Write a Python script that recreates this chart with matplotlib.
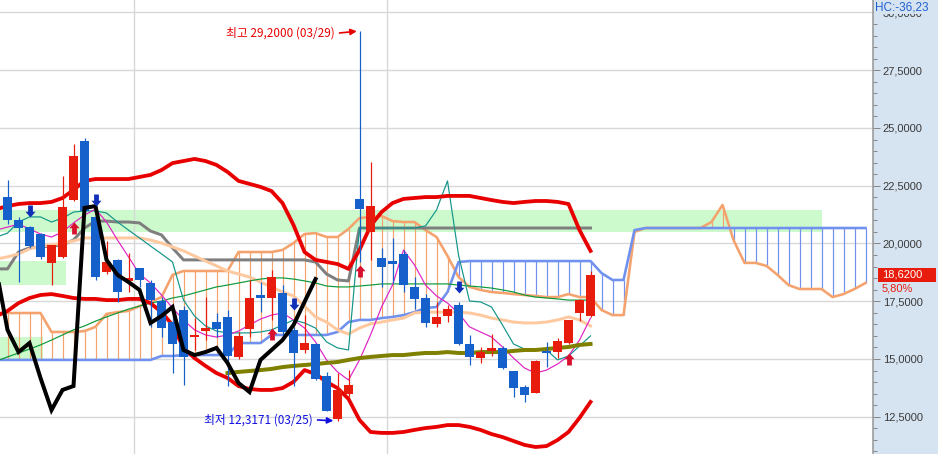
import matplotlib
matplotlib.use('Agg')
import matplotlib.pyplot as plt
import numpy as np
from matplotlib.path import Path
from matplotlib.patches import Rectangle
from matplotlib.transforms import blended_transform_factory
from matplotlib.ticker import MultipleLocator, FixedLocator, FuncFormatter

plt.rcParams['font.family'] = ['DejaVu Sans']
KR = ['Noto Sans CJK KR', 'DejaVu Sans']
NUMFONT = ['Liberation Sans', 'DejaVu Sans']

# ---------------- data ----------------
opens = [22.01, 21.02, 20.72, 20.41, 19.16, 19.42, 21.88, 24.44, 21.15, 18.77,
         19.29, 18.38, 18.94, 18.29, 17.51, 16.60, 17.12, 15.95, 16.21, 16.60,
         16.82, 15.09, 16.30, 17.77, 17.64, 17.86, 16.26, 15.39, 15.65, 14.26,
         12.40, 13.48, 21.93, 20.50, 19.37, 19.24, 19.55, 18.12, 17.64, 16.52,
         16.86, 17.34, 15.65, 15.04, 15.35, 15.48, 14.48, 13.79, 13.53, 15.35,
         15.30, 15.69, 16.99, 16.86]
highs = [22.75, 21.15, 20.75, 20.45, 19.94, 22.92, 24.31, 24.57, 21.23, 20.11,
         19.33, 19.59, 18.94, 18.42, 17.68, 16.90, 17.29, 16.77, 17.68, 16.99,
         17.12, 16.17, 18.42, 18.33, 18.85, 18.20, 16.40, 16.90, 15.69, 14.44,
         14.39, 14.52, 29.20, 23.53, 19.81, 20.24, 19.72, 18.55, 17.81, 17.47,
         17.34, 17.47, 16.04, 15.52, 16.08, 15.56, 14.48, 13.87, 14.96, 15.74,
         15.91, 16.69, 17.60, 18.81]
lows = [20.84, 18.33, 19.81, 19.33, 18.20, 19.37, 21.84, 21.36, 18.42, 18.68,
        17.47, 17.90, 18.12, 16.39, 15.95, 14.39, 13.87, 15.39, 15.82, 15.95,
        13.83, 15.00, 15.95, 17.03, 16.69, 16.04, 13.83, 15.26, 14.09, 12.75,
        12.3171, 13.35, 19.20, 19.29, 18.12, 18.29, 17.90, 17.16, 16.39, 16.39,
        16.60, 15.61, 14.74, 14.83, 15.13, 14.57, 13.35, 13.14, 13.53, 14.65,
        15.04, 15.65, 16.65, 16.82]
closes = [21.02, 20.67, 19.89, 19.42, 19.94, 21.58, 23.79, 21.41, 18.55, 19.20,
          17.90, 18.51, 18.42, 17.55, 16.34, 15.65, 15.09, 16.00, 16.34, 16.30,
          15.13, 16.00, 17.64, 17.64, 18.55, 16.17, 15.26, 15.69, 14.13, 12.75,
          13.66, 13.87, 21.49, 21.62, 18.98, 19.11, 18.20, 17.60, 16.56, 16.82,
          17.16, 15.65, 15.09, 15.30, 15.48, 14.61, 13.74, 13.44, 14.91, 15.26,
          15.78, 16.69, 17.55, 18.62]

# indicator lines, index -1 .. 53
bb_upper = [21.49, 21.62, 21.71, 21.75, 21.75, 21.80, 21.97, 22.32, 22.71, 22.79,
            22.79, 22.79, 22.79, 22.88, 22.97, 23.18, 23.48, 23.57, 23.66, 23.57,
            23.40, 23.10, 22.71, 22.58, 22.45, 22.27, 21.75, 20.80, 19.63, 19.29,
            19.20, 19.11, 18.90, 19.72, 20.76, 21.36, 21.75, 21.93, 21.97, 22.01,
            22.01, 22.06, 22.06, 22.06, 21.97, 21.88, 21.80, 21.75, 21.80, 21.84,
            21.84, 21.80, 21.71, 20.58, 19.68]
bb_lower = [16.86, 17.08, 17.42, 17.64, 17.77, 17.81, 17.73, 17.64, 17.60, 17.60,
            17.55, 17.55, 17.60, 17.60, 17.42, 17.03, 16.47, 15.48, 15.04, 14.70,
            14.39, 14.18, 13.83, 13.70, 13.66, 13.66, 13.74, 14.01, 14.52, 14.35,
            14.01, 13.74, 13.27, 12.36, 11.84, 11.80, 11.80, 11.84, 11.93, 12.01,
            12.06, 12.14, 12.14, 12.06, 11.93, 11.75, 11.62, 11.45, 11.28, 11.19,
            11.23, 11.49, 11.84, 12.45, 13.14]
gray_line = [18.90, 18.90, 19.63, 19.81, 19.85, 19.89, 19.94, 20.15, 20.67, 20.97,
             20.97, 20.93, 20.93, 20.89, 20.54, 20.37, 19.81, 19.29, 19.29, 19.29,
             19.29, 19.29, 19.29, 19.29, 19.29, 19.29, 19.29, 19.29, 19.29, 19.20,
             18.68, 18.42, 18.38, 20.67, 20.67, 20.67, 20.67, 20.67, 20.67, 20.67,
             20.67, 20.67, 20.67, 20.67, 20.67, 20.67, 20.67, 20.67, 20.67, 20.67,
             20.67, 20.67, 20.67, 20.67, 20.67]
peach_line = [19.33, 19.42, 19.55, 19.76, 19.89, 19.94, 20.02, 20.11, 20.24, 20.24,
              20.24, 20.24, 20.24, 20.24, 20.15, 20.02, 19.85, 19.68, 19.46, 19.24,
              19.03, 18.81, 18.68, 18.55, 18.33, 18.12, 17.90, 17.73, 17.29, 16.82,
              16.60, 16.26, 16.08, 16.34, 16.52, 16.60, 16.69, 16.77, 16.99, 17.03,
              17.03, 17.03, 17.03, 16.99, 16.90, 16.77, 16.69, 16.60, 16.56, 16.56,
              16.60, 16.69, 16.82, 16.69, 16.43]
green_line = [14.91, 15.09, 15.26, 15.43, 15.61, 15.82, 16.04, 16.26, 16.43, 16.64,
              16.82, 16.99, 17.16, 17.29, 17.42, 17.51, 17.64, 17.73, 17.86, 17.99,
              18.12, 18.20, 18.29, 18.38, 18.46, 18.51, 18.51, 18.46, 18.38, 18.29,
              18.16, 18.12, 18.12, 18.16, 18.20, 18.25, 18.25, 18.25, 18.25, 18.25,
              18.25, 18.25, 18.20, 18.16, 18.12, 18.07, 17.99, 17.90, 17.77, 17.68,
              17.64, 17.60, 17.55, 17.55, 17.55]
teal_line = [20.28, 20.45, 20.93, 21.15, 21.15, 20.93, 21.10, 21.36, 21.41, 21.41,
             21.32, 20.93, 20.58, 20.24, 19.89, 19.55, 19.20, 17.55, 16.86, 16.43,
             16.21, 16.13, 16.13, 16.13, 16.17, 16.26, 16.47, 16.69, 16.56, 16.34,
             15.74, 15.48, 15.39, 20.67, 20.67, 20.67, 20.67, 20.67, 20.67, 20.76,
             21.45, 22.71, 19.50, 17.51, 17.47, 17.25, 16.47, 15.65, 15.43, 15.39,
             15.39, 14.96, 15.13, 15.56, 16.00]
magenta_line = [20.58, 20.71, 20.84, 20.63, 20.41, 20.28, 20.50, 20.89, 21.23, 21.49,
                20.93, 20.15, 19.42, 18.68, 18.29, 17.77, 17.21, 16.69, 16.26, 16.04,
                15.95, 16.04, 16.21, 16.47, 16.73, 16.90, 16.99, 16.69, 16.34, 15.74,
                14.96, 14.44, 14.09, 14.96, 16.04, 17.25, 18.20, 19.72, 19.07, 18.20,
                17.73, 17.42, 16.99, 16.39, 16.17, 15.95, 15.52, 15.04, 14.61, 14.39,
                14.52, 14.78, 15.13, 15.82, 16.77]
# index 20 .. 53
olive_line = [14.39, 14.44, 14.48, 14.52, 14.57, 14.65, 14.70, 14.74, 14.78, 14.83,
              14.87, 14.96, 15.04, 15.09, 15.13, 15.17, 15.17, 15.22, 15.26, 15.26,
              15.30, 15.26, 15.26, 15.30, 15.30, 15.30, 15.35, 15.39, 15.39, 15.43,
              15.48, 15.52, 15.61, 15.65]
# index -1 .. 28
black_line = [18.81, 16.26, 15.30, 15.69, 14.18, 12.79, 13.66, 13.83, 21.54, 21.62,
              19.29, 18.64, 18.33, 17.99, 16.56, 16.86, 17.25, 15.39, 15.17, 15.30,
              15.48, 14.83, 13.96, 13.57, 14.96, 15.39, 15.82, 16.47, 17.47, 18.46]
# ichimoku leading spans, index -1 .. 78
span_orange = [16.99, 16.99, 16.99, 16.99, 16.99, 16.17, 16.17, 16.17, 16.21, 16.39,
               16.95, 17.03, 17.08, 17.29, 17.47, 17.68, 18.64, 18.81, 18.81, 18.81,
               18.81, 18.81, 19.63, 19.63, 19.63, 19.63, 19.72, 20.02, 20.41, 20.45,
               20.28, 20.28, 20.63, 21.10, 21.15, 21.19, 20.97, 20.93, 20.93, 20.58,
               20.28, 19.46, 18.55, 18.12, 17.99, 17.90, 17.86, 17.81, 17.77, 17.73,
               17.68, 17.68, 17.81, 17.68, 17.68, 17.12, 16.90, 16.90, 20.50, 20.67,
               20.67, 20.67, 20.67, 20.67, 20.67, 20.93, 21.67, 20.15, 19.16, 19.16,
               19.03, 18.64, 18.20, 18.03, 18.03, 18.03, 17.68, 17.81, 18.03, 18.29]
span_blue = [14.96, 14.96, 14.96, 14.96, 14.96, 14.96, 14.96, 14.96, 14.96, 14.96,
             14.96, 14.96, 14.96, 14.96, 14.96, 15.13, 15.13, 15.17, 15.17, 15.17,
             15.17, 15.17, 15.69, 15.69, 15.69, 16.04, 16.04, 16.04, 16.04, 16.04,
             16.04, 16.17, 16.60, 16.69, 16.69, 16.77, 16.82, 16.90, 17.03, 17.21,
             17.25, 17.90, 19.20, 19.24, 19.24, 19.24, 19.24, 19.24, 19.24, 19.24,
             19.24, 19.24, 19.24, 19.24, 19.24, 18.72, 18.42, 18.42, 20.58, 20.67,
             20.67, 20.67, 20.67, 20.67, 20.67, 20.67, 20.67, 20.67, 20.67, 20.67,
             20.67, 20.67, 20.67, 20.67, 20.67, 20.67, 20.67, 20.67, 20.67, 20.67]

# signal arrows (candle index, price level)
buy_idx = [6, 24, 32, 51]
buy_lvl = [20.69, 16.08, 18.79, 15.02]
sell_idx = [2, 8, 26, 41]
sell_lvl = [21.41, 21.88, 17.38, 18.12]

# highlighted zones: (index start, index end, price low, price high)
zones = [(-1.0, 74.05, 20.50, 21.45), (-1.0, 5.3, 18.20, 19.24), (-1.0, 3.2, 15.00, 15.95)]

month_lines = [11.5, 34.5]
y_ticks = [12.5, 15.0, 17.5, 20.0, 22.5, 25.0, 27.5, 30.0]
hi_date = '03/29'
lo_date = '03/25'
change_label = '5,80%'
hc_label = 'HC:-36,23'

# ---------------- figure ----------------
W, H = 938, 454
PLOT_W = 873
PANEL = '#D6E3F1'
fig = plt.figure(figsize=(W / 100, H / 100), dpi=100, facecolor=PANEL)
ax = fig.add_axes([0, 0, PLOT_W / W, 1])
ax.set_facecolor('white')
ax.set_xlim(-0.682, 78.68)
ax.set_ylim(10.887, 30.541)

PX = 0.72  # points per pixel

for (x0, x1, y0, y1) in zones:
    ax.add_patch(Rectangle((x0, y0), x1 - x0, y1 - y0, facecolor='#CCFACC',
                           edgecolor='none', zorder=0))

for v in y_ticks:
    ax.axhline(v, color='#D8D8D8', lw=1.4 * PX, zorder=0.5)
for m in month_lines:
    ax.axvline(m, color='#D8D8D8', lw=1.4 * PX, zorder=0.5)

n = len(closes)
idx = np.arange(n)
line_x = np.arange(-1, n)
cloud_x = np.arange(-1, len(span_orange) - 1)

ORANGE = '#F5A36E'
BLUE_SPAN = '#7092EE'
so = np.array(span_orange)
sb = np.array(span_blue)
hatch_colors = [ORANGE if a > b else BLUE_SPAN for a, b in zip(so, sb)]
ax.vlines(cloud_x, np.minimum(so, sb), np.maximum(so, sb), colors=hatch_colors,
          lw=1.2 * PX, zorder=1)
ax.plot(cloud_x, so, color=ORANGE, lw=2.6 * PX, zorder=2)
ax.plot(cloud_x, sb, color=BLUE_SPAN, lw=2.6 * PX, zorder=2.1)

ax.plot(line_x, gray_line, color='#7F7F7F', lw=3 * PX, zorder=3)
ax.plot(line_x, peach_line, color='#FFC9A0', lw=3 * PX, zorder=3)
ax.plot(line_x, green_line, color='#0E9A3A', lw=1.2 * PX, zorder=3.2)
ax.plot(line_x, teal_line, color='#14968A', lw=1.2 * PX, zorder=3.2)
ax.plot(line_x, magenta_line, color='#E024C4', lw=1.2 * PX, zorder=3.2)
ax.plot(np.arange(20, 20 + len(olive_line)), olive_line, color='#808000', lw=4 * PX, zorder=3.3)
ax.plot(line_x, bb_upper, color='#E80000', lw=3.8 * PX, zorder=3.4)
ax.plot(line_x, bb_lower, color='#E80000', lw=3.8 * PX, zorder=3.4)

RED = '#E81C0C'
BLUE = '#1660CC'
for i in range(n):
    o, h, l, c = opens[i], highs[i], lows[i], closes[i]
    col = RED if c >= o else BLUE
    ax.vlines(i, l, h, colors=col, lw=1.2 * PX, zorder=4)
    bot = min(o, c)
    ht = max(abs(c - o), 0.07)
    ax.add_patch(Rectangle((i - 0.41, bot), 0.82, ht, facecolor=col,
                           edgecolor='none', zorder=4.1))

ax.plot(np.arange(-1, -1 + len(black_line)), black_line, color='black',
        lw=4 * PX, zorder=5, solid_joinstyle='miter')

up = Path([(-0.42, 0.02), (0, 0.5), (0.42, 0.02), (0.2, 0.02), (0.2, -0.5),
           (-0.2, -0.5), (-0.2, 0.02), (-0.42, 0.02)],
          [Path.MOVETO] + [Path.LINETO] * 6 + [Path.CLOSEPOLY])
down = Path([(-0.42, -0.02), (0, -0.5), (0.42, -0.02), (0.2, -0.02), (0.2, 0.5),
             (-0.2, 0.5), (-0.2, -0.02), (-0.42, -0.02)],
            [Path.MOVETO] + [Path.LINETO] * 6 + [Path.CLOSEPOLY])
ax.plot(buy_idx, buy_lvl, linestyle='none', marker=up, markersize=12 * PX,
        color='#D8102E', markeredgewidth=0, zorder=6)
ax.plot(sell_idx, sell_lvl, linestyle='none', marker=down, markersize=12 * PX,
        color='#1030B8', markeredgewidth=0, zorder=6)

def fmt(v):
    return f'{v:.4f}'.replace('.', ',')

hi_i = int(np.argmax(highs))
lo_i = int(np.argmin(lows))
hi_v = highs[hi_i]
lo_v = lows[lo_i]
ax.annotate('', xy=(hi_i, hi_v), xytext=(-20, -2), textcoords='offset pixels',
            arrowprops=dict(arrowstyle='-|>', color='#E80000', lw=1.2, shrinkA=0,
                            shrinkB=2, mutation_scale=9), zorder=7)
ax.annotate(f'최고 {fmt(hi_v)} ({hi_date})', xy=(hi_i, hi_v), xytext=(-25, -2),
            textcoords='offset pixels', ha='right', va='center', color='#E80000',
            fontsize=8.5, family=KR, zorder=7)
ax.annotate('', xy=(lo_i, lo_v), xytext=(-20, 1), textcoords='offset pixels',
            arrowprops=dict(arrowstyle='-|>', color='#1010E0', lw=1.2, shrinkA=0,
                            shrinkB=3, mutation_scale=9), zorder=7)
ax.annotate(f'최저 {fmt(lo_v)} ({lo_date})', xy=(lo_i, lo_v), xytext=(-25, 1),
            textcoords='offset pixels', ha='right', va='center', color='#1010E0',
            fontsize=8.5, family=KR, zorder=7)

# axes styling
for s in ['left', 'top', 'bottom']:
    ax.spines[s].set_visible(False)
ax.spines['right'].set_color('#999999')
ax.spines['right'].set_linewidth(1.6 * PX)
ax.set_xticks([])
ax.yaxis.tick_right()
ax.yaxis.set_major_locator(FixedLocator(y_ticks))
ax.yaxis.set_minor_locator(MultipleLocator(0.5))
ax.yaxis.set_major_formatter(FuncFormatter(lambda v, p: fmt(v)))
ax.tick_params(axis='y', which='major', length=7 * PX, width=1 * PX, color='#888888',
               pad=2, labelsize=8, labelcolor='#3A3A3A')
ax.tick_params(axis='y', which='minor', length=3.5 * PX, width=1 * PX, color='#888888')
for lab in ax.get_yticklabels():
    lab.set_family(NUMFONT)

# last price badge
bt = blended_transform_factory(ax.transAxes, ax.transData)
last = closes[-1]
ax.add_patch(Rectangle((878 / PLOT_W, last - 0.27), 58 / PLOT_W, 0.57, transform=bt,
                       facecolor='#E81C0C', edgecolor='none', clip_on=False, zorder=8))
ax.text(882 / PLOT_W, last + 0.02, fmt(last), transform=bt, ha='left', va='center',
        color='white', fontsize=8, family=NUMFONT, clip_on=False, zorder=9)
ax.text(882 / PLOT_W, last - 0.55, change_label, transform=bt, ha='left', va='center',
        color='#E81C0C', fontsize=8, family=NUMFONT, clip_on=False, zorder=9)

fig.text(875 / W, 1 - 7 / H, hc_label, ha='left', va='center', color='#1F60D0',
         fontsize=8.5, family=NUMFONT,
         bbox=dict(boxstyle='square,pad=0.1', facecolor=PANEL, edgecolor='none'))

fig.savefig('out.png', dpi=100, facecolor=PANEL)
